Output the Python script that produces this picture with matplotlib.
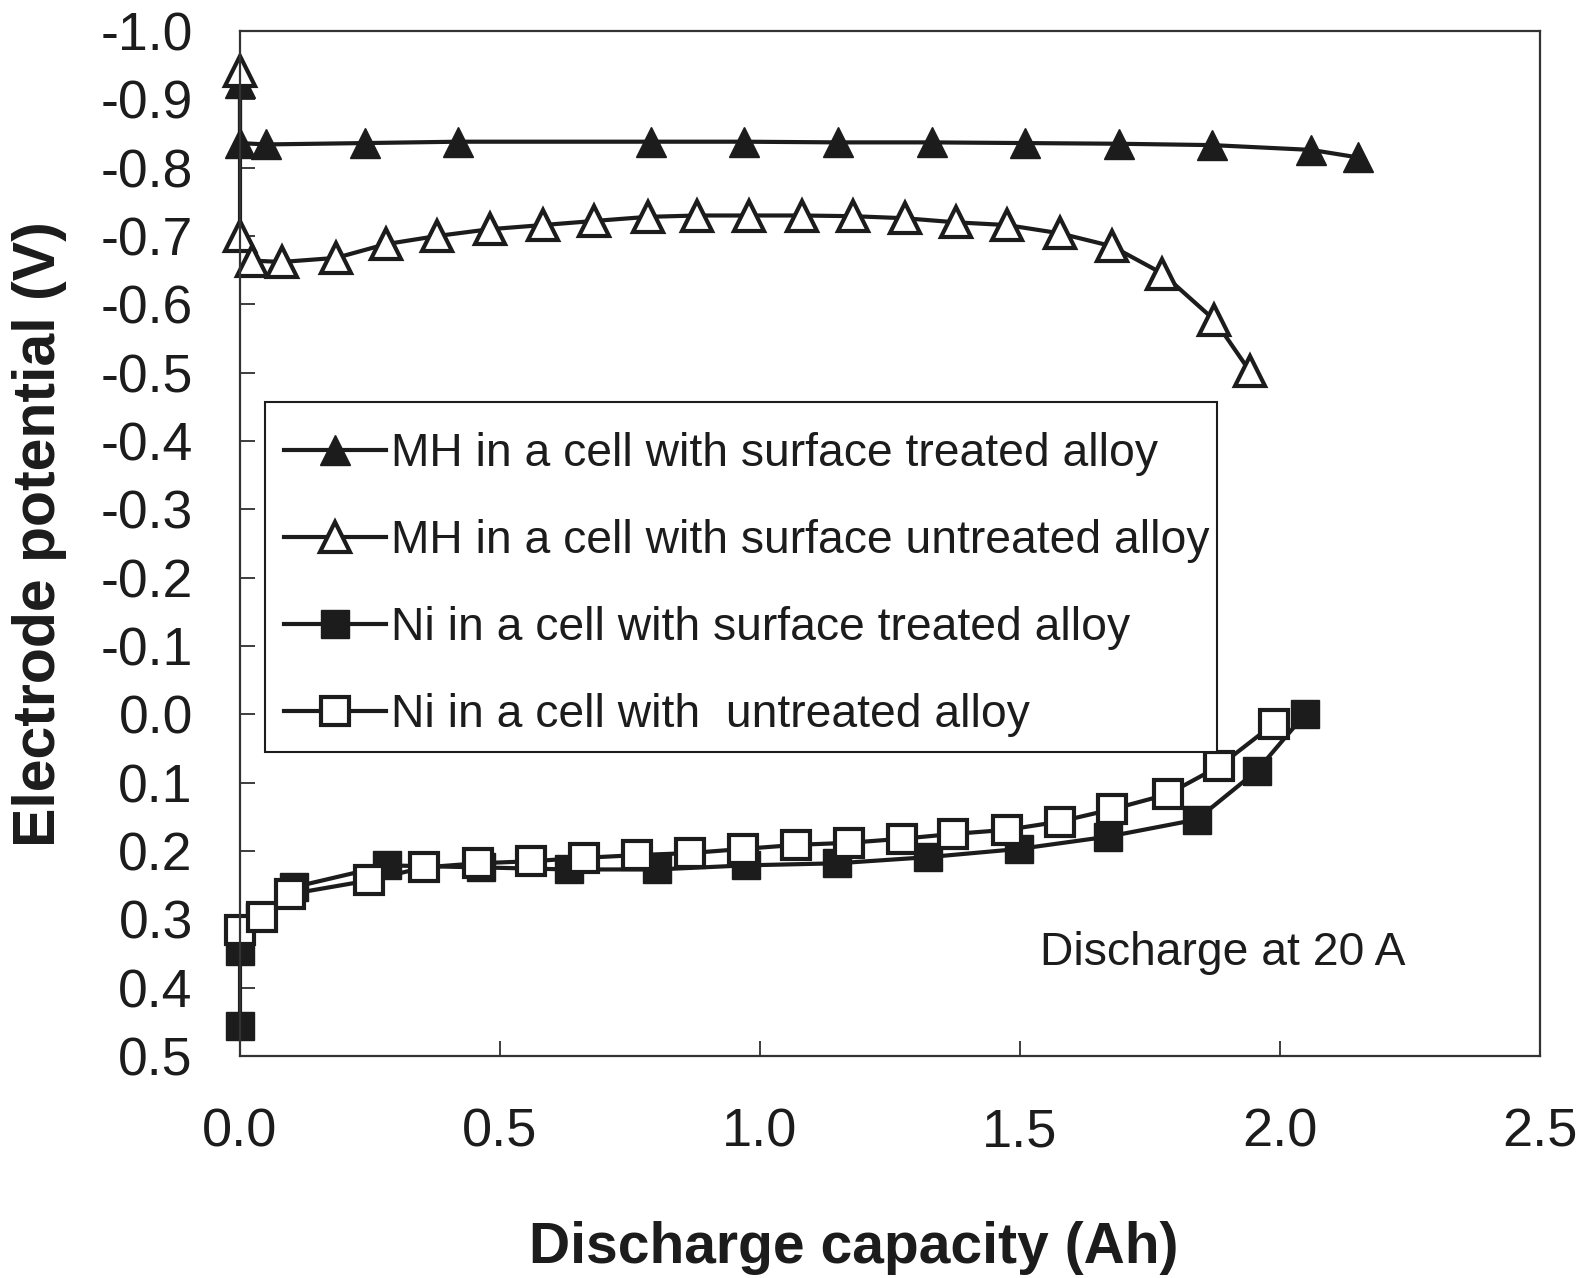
import numpy as np
import matplotlib
matplotlib.use("Agg")
import matplotlib.pyplot as plt
from matplotlib.patches import Rectangle

plt.rcParams.update({
    "font.family": ["Liberation Sans", "DejaVu Sans"],
    "axes.unicode_minus": False,
    "lines.linewidth": 3,
})

# MH electrode, surface treated alloy (filled triangles)
mh_t_x = [0.0, 0.0, 0.05, 0.24, 0.42, 0.79, 0.97, 1.15, 1.33, 1.51, 1.69, 1.87, 2.06, 2.15]
mh_t_y = [-0.924, -0.836, -0.834, -0.836, -0.838, -0.838, -0.838, -0.837, -0.837,
          -0.836, -0.835, -0.833, -0.826, -0.815]

# MH electrode, untreated alloy (open triangles)
mh_u_x = [0.0, 0.0, 0.023, 0.08, 0.185, 0.28, 0.379, 0.481, 0.582, 0.681, 0.784, 0.879,
          0.979, 1.08, 1.179, 1.278, 1.377, 1.475, 1.576, 1.677, 1.774, 1.874, 1.942]
mh_u_y = [-0.942, -0.700, -0.664, -0.662, -0.668, -0.688, -0.700, -0.710, -0.716, -0.722,
          -0.728, -0.730, -0.730, -0.730, -0.729, -0.726, -0.720, -0.716, -0.704, -0.685,
          -0.645, -0.577, -0.502]

# Ni electrode, surface treated alloy (filled squares)
ni_t_x = [0.0, 0.0, 0.039, 0.103, 0.282, 0.463, 0.632, 0.802, 0.973, 1.148, 1.323,
          1.498, 1.669, 1.840, 1.955, 2.049]
ni_t_y = [0.456, 0.346, 0.297, 0.253, 0.221, 0.224, 0.227, 0.227, 0.221, 0.218, 0.209,
          0.197, 0.179, 0.154, 0.083, -0.001]

# Ni electrode, untreated alloy (open squares)
ni_u_x = [0.0, 0.043, 0.097, 0.249, 0.354, 0.457, 0.560, 0.661, 0.763, 0.866, 0.967,
          1.070, 1.171, 1.274, 1.372, 1.475, 1.576, 1.677, 1.784, 1.883, 1.988]
ni_u_y = [0.315, 0.297, 0.263, 0.243, 0.224, 0.218, 0.215, 0.210, 0.206, 0.203, 0.197,
          0.191, 0.188, 0.182, 0.175, 0.169, 0.157, 0.139, 0.117, 0.076, 0.014]

labels = [
    "MH in a cell with surface treated alloy",
    "MH in a cell with surface untreated alloy",
    "Ni in a cell with surface treated alloy",
    "Ni in a cell with  untreated alloy",
]

ink = "#1c1c1c"

fig = plt.figure(figsize=(15.84, 12.78), dpi=100)
ax = fig.add_axes([240 / 1584, 1 - 1056 / 1278, 1300 / 1584, 1025 / 1278])

ms = 21
ax.plot(mh_t_x, mh_t_y, color=ink, marker="^", ms=ms, mfc=ink, mec=ink,
        clip_on=False, label=labels[0])
ax.plot(mh_u_x, mh_u_y, color=ink, marker="^", ms=ms, mfc="white", mec=ink, mew=3,
        clip_on=False, label=labels[1])
ax.plot(ni_t_x, ni_t_y, color=ink, marker="s", ms=ms - 1, mfc=ink, mec=ink,
        clip_on=False, label=labels[2])
ax.plot(ni_u_x, ni_u_y, color=ink, marker="s", ms=ms - 1, mfc="white", mec=ink, mew=3,
        clip_on=False, label=labels[3])

ax.set_xlim(0, 2.5)
ax.set_ylim(0.5, -1.0)

yt = np.round(np.arange(-1.0, 0.51, 0.1), 1)
ax.set_yticks(yt)
ax.set_yticklabels([f"{v:.1f}".replace("-0.0", "0.0") for v in yt])
ax.set_xticks([0.0, 0.5, 1.0, 1.5, 2.0, 2.5])
ax.set_xticklabels(["0.0", "0.5", "1.0", "1.5", "2.0", "2.5"])

ax.tick_params(axis="y", direction="in", length=11, width=1.2, labelsize=38.5, pad=34,
               colors=ink, right=False)
ax.tick_params(axis="x", direction="in", length=11, width=1.2, labelsize=39, pad=37,
               colors=ink, top=False)
for s in ax.spines.values():
    s.set_linewidth(1.6)
    s.set_color("#333333")

# legend frame drawn separately so the rows can sit where they do in the original
ax.add_patch(Rectangle((0.019, 0.297), 0.7325, 0.341, transform=ax.transAxes,
                       facecolor="white", edgecolor=ink, lw=1.5, zorder=4.9))
leg = ax.legend(loc="upper left", bbox_to_anchor=(0.019, 0.628), borderaxespad=0,
                fontsize=33.3, numpoints=1, handlelength=2.2, handletextpad=0.12,
                labelspacing=0.935, borderpad=0.42, frameon=False)
for t in leg.get_texts():
    t.set_color(ink)

ax.text(1.538, 0.349, "Discharge at 20 A", fontsize=33.3, color=ink, va="center", ha="left")

fig.text(854 / 1584, 1 - 1248 / 1278, "Discharge capacity (Ah)", fontsize=41,
         fontweight="bold", ha="center", va="center", color=ink)
fig.text(40 / 1584, 1 - 534 / 1278, "Electrode potential (V)", fontsize=42.5,
         fontweight="bold", ha="center", va="center", rotation=90, color=ink)

fig.savefig("out.png", dpi=100)
